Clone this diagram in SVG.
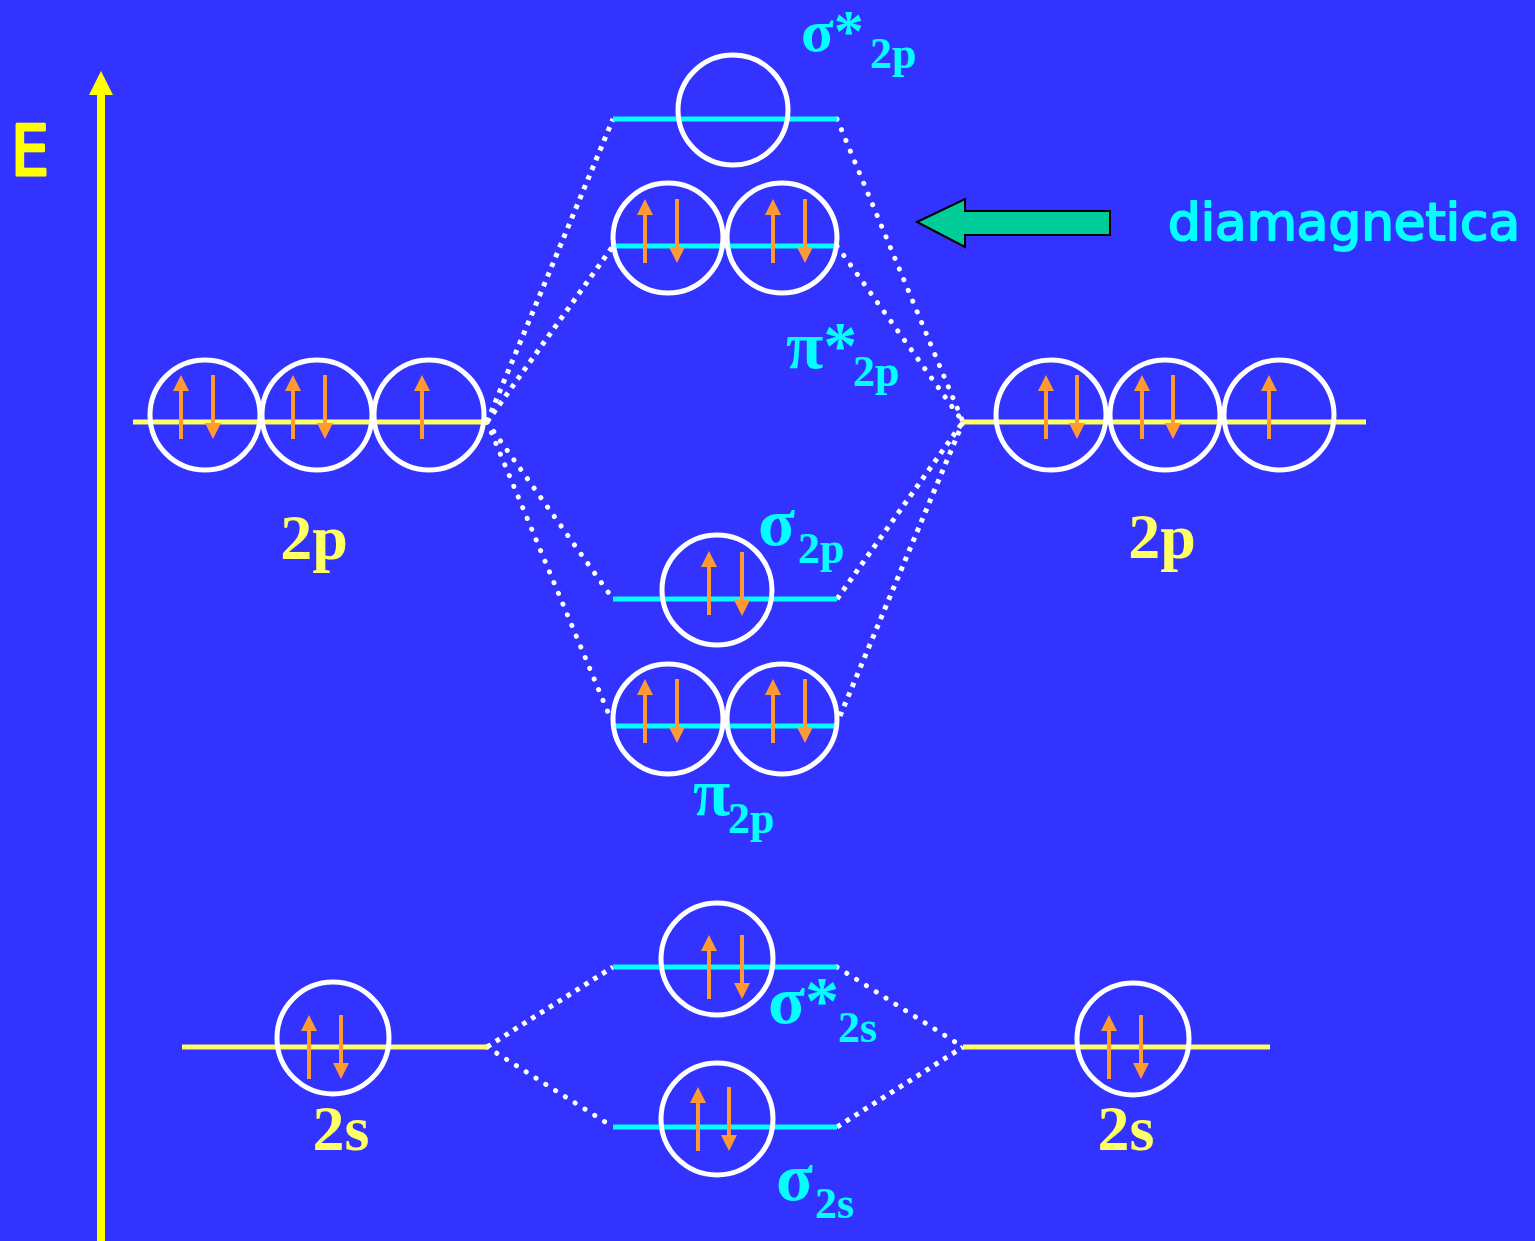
<svg xmlns="http://www.w3.org/2000/svg" xmlns:xlink="http://www.w3.org/1999/xlink" width="1535" height="1241" viewBox="0 0 1535 1241">
<style>
.ao{stroke:#FFFF66;stroke-width:5;fill:none}
.mo{stroke:#00FFFF;stroke-width:5;fill:none}
.orb{stroke:#FFFFFF;stroke-width:5;fill:none}
.dr{stroke:#FFFFFF;stroke-width:5;fill:none;stroke-linecap:round;stroke-dasharray:0.1 11.5}
.ds{stroke:#FFFFFF;stroke-width:5;fill:none;stroke-linecap:butt;stroke-dasharray:4.5 6}
.lbl{font-family:"Liberation Serif","Times New Roman",serif;font-weight:bold;fill:#00FFFF}
.big{font-size:68px}
.sub{font-size:44px}
.ylbl{font-family:"Liberation Serif","Times New Roman",serif;font-weight:bold;fill:#FFFF66;font-size:64px;text-anchor:middle}
</style>
<defs>
<g id="up"><line x1="0" y1="0" x2="0" y2="-50" stroke="#FF9933" stroke-width="4"/><polygon points="-8,-48 8,-48 0,-64" fill="#FF9933"/></g>
<g id="dn"><line x1="0" y1="0" x2="0" y2="50" stroke="#FF9933" stroke-width="4"/><polygon points="-8,48 8,48 0,64" fill="#FF9933"/></g>
</defs>
<rect x="0" y="0" width="1535" height="1241" fill="#3333FF"/>

<g id="axis">
<line x1="101" y1="92" x2="101" y2="1241" stroke="#FFFF00" stroke-width="8"/>
<polygon points="89,95 113,95 101,71" fill="#FFFF00"/>
<text x="11" y="175" font-family="'Comic Sans MS','DejaVu Sans',sans-serif" font-size="70" fill="#FFFF00" stroke="#FFFF00" stroke-width="3" stroke-linejoin="round" textLength="38" lengthAdjust="spacingAndGlyphs">E</text>
</g>

<g id="connectors">
<line class="ds" x1="487" y1="422" x2="613" y2="119"/>
<line class="ds" x1="487" y1="422" x2="613" y2="246"/>
<line class="dr" x1="487" y1="422" x2="613" y2="599"/>
<line class="dr" x1="487" y1="422" x2="610" y2="717"/>
<line class="dr" x1="837" y1="119" x2="963" y2="422"/>
<line class="dr" x1="837" y1="246" x2="963" y2="422"/>
<line class="ds" x1="837" y1="599" x2="963" y2="422"/>
<line class="ds" x1="840" y1="716" x2="963" y2="422"/>
<line class="ds" x1="487" y1="1047" x2="613" y2="967"/>
<line class="dr" x1="487" y1="1047" x2="613" y2="1127"/>
<line class="dr" x1="837" y1="967" x2="963" y2="1047"/>
<line class="ds" x1="837" y1="1127" x2="963" y2="1047"/>
</g>

<g id="ao-2p-left">
<line class="ao" x1="133" y1="422" x2="487" y2="422"/>
<circle class="orb" cx="205" cy="415" r="55"/>
<circle class="orb" cx="317" cy="415" r="55"/>
<circle class="orb" cx="429" cy="415" r="55"/>
<use xlink:href="#up" x="181" y="439"/><use xlink:href="#dn" x="213" y="375"/>
<use xlink:href="#up" x="293" y="439"/><use xlink:href="#dn" x="325" y="375"/>
<use xlink:href="#up" x="422" y="439"/>
<text class="ylbl" x="314" y="559">2p</text>
</g>

<g id="ao-2p-right">
<line class="ao" x1="963" y1="422" x2="1366" y2="422"/>
<circle class="orb" cx="1051" cy="415" r="55"/>
<circle class="orb" cx="1165" cy="415" r="55"/>
<circle class="orb" cx="1279" cy="415" r="55"/>
<use xlink:href="#up" x="1046" y="439"/><use xlink:href="#dn" x="1077" y="375"/>
<use xlink:href="#up" x="1142" y="439"/><use xlink:href="#dn" x="1173" y="375"/>
<use xlink:href="#up" x="1269" y="439"/>
<text class="ylbl" x="1162" y="558">2p</text>
</g>

<g id="mo-sigma-star-2p">
<line class="mo" x1="613" y1="119" x2="837" y2="119"/>
<circle class="orb" cx="733" cy="110" r="55"/>
<text class="lbl"><tspan x="801" y="51" font-size="60">σ*</tspan><tspan class="sub" x="870" y="68">2p</tspan></text>
</g>

<g id="mo-pi-star-2p">
<line class="mo" x1="613" y1="246" x2="837" y2="246"/>
<circle class="orb" cx="668" cy="238" r="55"/>
<circle class="orb" cx="782" cy="238" r="55"/>
<use xlink:href="#up" x="645" y="263"/><use xlink:href="#dn" x="677" y="199"/>
<use xlink:href="#up" x="773" y="263"/><use xlink:href="#dn" x="805" y="199"/>
<text class="lbl"><tspan class="big" x="786" y="368">π*</tspan><tspan class="sub" x="853" y="386">2p</tspan></text>
</g>

<g id="mo-sigma-2p">
<line class="mo" x1="613" y1="599" x2="837" y2="599"/>
<circle class="orb" cx="717" cy="590" r="55"/>
<use xlink:href="#up" x="709" y="615"/><use xlink:href="#dn" x="742" y="552"/>
<text class="lbl"><tspan class="big" x="758" y="545">σ</tspan><tspan class="sub" x="798" y="563">2p</tspan></text>
</g>

<g id="mo-pi-2p">
<line class="mo" x1="613" y1="726" x2="837" y2="726"/>
<circle class="orb" cx="668" cy="719" r="55"/>
<circle class="orb" cx="782" cy="719" r="55"/>
<use xlink:href="#up" x="645" y="743"/><use xlink:href="#dn" x="677" y="679"/>
<use xlink:href="#up" x="773" y="743"/><use xlink:href="#dn" x="805" y="679"/>
<text class="lbl"><tspan class="big" x="693" y="815">π</tspan><tspan class="sub" x="728" y="833">2p</tspan></text>
</g>

<g id="ao-2s-left">
<line class="ao" x1="182" y1="1047" x2="487" y2="1047"/>
<circle class="orb" cx="333" cy="1038" r="56"/>
<use xlink:href="#up" x="309" y="1079"/><use xlink:href="#dn" x="341" y="1015"/>
<text class="ylbl" x="341" y="1150">2s</text>
</g>

<g id="ao-2s-right">
<line class="ao" x1="963" y1="1047" x2="1270" y2="1047"/>
<circle class="orb" cx="1133" cy="1039" r="56"/>
<use xlink:href="#up" x="1109" y="1079"/><use xlink:href="#dn" x="1141" y="1015"/>
<text class="ylbl" x="1126" y="1150">2s</text>
</g>

<g id="mo-sigma-star-2s">
<line class="mo" x1="613" y1="967" x2="837" y2="967"/>
<circle class="orb" cx="717" cy="959" r="56"/>
<use xlink:href="#up" x="709" y="999"/><use xlink:href="#dn" x="742" y="935"/>
<text class="lbl"><tspan class="big" x="768" y="1023">σ*</tspan><tspan class="sub" x="838" y="1042">2s</tspan></text>
</g>

<g id="mo-sigma-2s">
<line class="mo" x1="613" y1="1127" x2="837" y2="1127"/>
<circle class="orb" cx="717" cy="1119" r="56"/>
<use xlink:href="#up" x="698" y="1151"/><use xlink:href="#dn" x="729" y="1087"/>
<text class="lbl"><tspan class="big" x="776" y="1200">σ</tspan><tspan class="sub" x="815" y="1218">2s</tspan></text>
</g>

<g id="callout">
<polygon points="917,222 965,199 965,211 1110,211 1110,235 965,235 965,247" fill="#00CC99" stroke="#000000" stroke-width="2" stroke-linejoin="miter"/>
<text x="1168" y="240" font-family="'Comic Sans MS','DejaVu Sans',sans-serif" font-size="52" fill="#00FFFF" stroke="#00FFFF" stroke-width="2" stroke-linejoin="round" textLength="352" lengthAdjust="spacingAndGlyphs">diamagnetica</text>
</g>
</svg>
